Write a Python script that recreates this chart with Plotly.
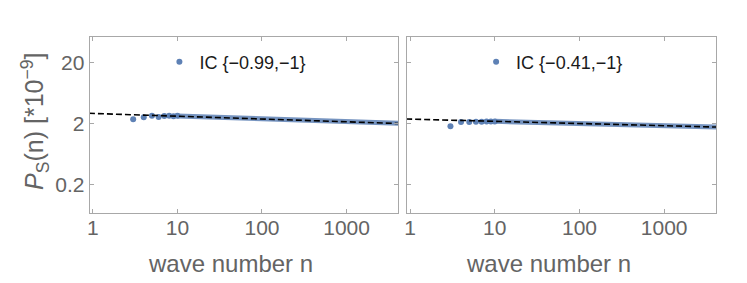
import plotly.graph_objects as go

# ---- data ----
labels = ["IC {\u22120.99,\u22121}", "IC {\u22120.41,\u22121}"]

# discrete early points
n_pts = [3, 4, 5, 6, 7, 8, 9, 10]
P_pts_left = [2.34, 2.53, 2.67, 2.55, 2.65, 2.68, 2.64, 2.67]
P_pts_right = [1.80, 2.12, 2.12, 2.13, 2.14, 2.15, 2.15, 2.16]

# dense band (overlapping points) sampled at these wave numbers
n_band = [10, 30, 100, 300, 1000, 4100]
P_band_left = [2.66, 2.54, 2.40, 2.27, 2.14, 2.01]
P_band_right = [2.17, 2.10, 2.03, 1.95, 1.87, 1.76]

# dashed reference power law (end points)
n_dash = [0.9, 4100]
P_dash_left = [2.94, 2.00]
P_dash_right = [2.37, 1.75]

xticks = [1, 10, 100, 1000]
xtick_text = ["1", "10", "100", "1000"]
yticks = [0.2, 2, 20]
ytick_text = ["0.2", "2", "20"]

BLUE = "#5e81b5"
GRAY = "#646464"
FRAME = "#a8a8a8"
W, H = 739, 275   # page body has an 8px margin inside the 747x283 window
OFF = 8


def px(x):
    return (x - OFF) / W


def py(y):
    return 1 - (y - OFF) / H


NARROW = "Liberation Sans Narrow, Arial Narrow, Liberation Sans, sans-serif"
SANS = "Liberation Sans, Arial, sans-serif"

fig = go.Figure()

panels = [
    ("x", "y", P_pts_left, P_band_left, P_dash_left, "legend"),
    ("x2", "y2", P_pts_right, P_band_right, P_dash_right, "legend2"),
]
for i, (xa, ya, pp, pb, pd, lg) in enumerate(panels):
    fig.add_trace(go.Scatter(x=n_band, y=pb, mode="lines", xaxis=xa, yaxis=ya,
                             line=dict(color="rgba(94,129,181,0.85)", width=5),
                             showlegend=False, hoverinfo="skip"))
    fig.add_trace(go.Scatter(x=n_pts, y=pp, mode="markers", xaxis=xa, yaxis=ya,
                             marker=dict(color=BLUE, size=6),
                             name=labels[i], legend=lg, showlegend=True))
    fig.add_trace(go.Scatter(x=n_dash, y=pd, mode="lines", xaxis=xa, yaxis=ya,
                             line=dict(color="black", width=1.6, dash="6px,3px"),
                             showlegend=False, hoverinfo="skip"))

xr = [-0.037, 3.613]
yr = [-1.166, 1.719]
ydom = [py(213), py(37)]
axis_common = dict(showline=True, linecolor=FRAME, linewidth=1, mirror="ticks",
                   ticks="inside", ticklen=4, tickcolor=FRAME, showgrid=False,
                   zeroline=False, type="log",
                   tickfont=dict(family=NARROW, size=21, color=GRAY))

fig.update_layout(
    width=W, height=H,
    margin=dict(l=0, r=0, t=0, b=0),
    paper_bgcolor="white", plot_bgcolor="white",
    xaxis=dict(domain=[px(87), px(397)], range=xr, tickvals=xticks, ticktext=xtick_text,
               anchor="y", ticklabelstandoff=-4, **axis_common),
    xaxis2=dict(domain=[px(405.5), px(716)], range=xr, tickvals=xticks, ticktext=xtick_text,
                anchor="y2", ticklabelstandoff=-4, **axis_common),
    yaxis=dict(domain=ydom, range=yr, tickvals=yticks, ticktext=ytick_text,
               anchor="x", **axis_common),
    yaxis2=dict(domain=ydom, range=yr, tickvals=yticks, ticktext=ytick_text,
                showticklabels=False, anchor="x2", **axis_common),
    legend=dict(x=px(157), y=py(62), xanchor="left", yanchor="middle",
                bgcolor="rgba(0,0,0,0)",
                font=dict(family=SANS, size=18, color="#1a1a1a")),
    legend2=dict(x=px(475), y=py(62), xanchor="left", yanchor="middle",
                 bgcolor="rgba(0,0,0,0)",
                 font=dict(family=SANS, size=18, color="#1a1a1a")),
    showlegend=True,
)

title_font = dict(family=NARROW, size=24, color=GRAY)
fig.add_annotation(text="wave number n", xref="paper", yref="paper",
                   x=px(228), y=py(263), showarrow=False,
                   font=title_font, xanchor="center", yanchor="middle")
fig.add_annotation(text="wave number n", xref="paper", yref="paper",
                   x=px(548), y=py(263), showarrow=False,
                   font=title_font, xanchor="center", yanchor="middle")
fig.add_annotation(text="<i>P</i><sub>S</sub>(n) [*10<sup>\u22129</sup>]",
                   xref="paper", yref="paper", x=px(32), y=py(121),
                   showarrow=False, textangle=-90,
                   font=dict(family=NARROW, size=25, color=GRAY),
                   xanchor="center", yanchor="middle")

fig.write_html("out.html")
